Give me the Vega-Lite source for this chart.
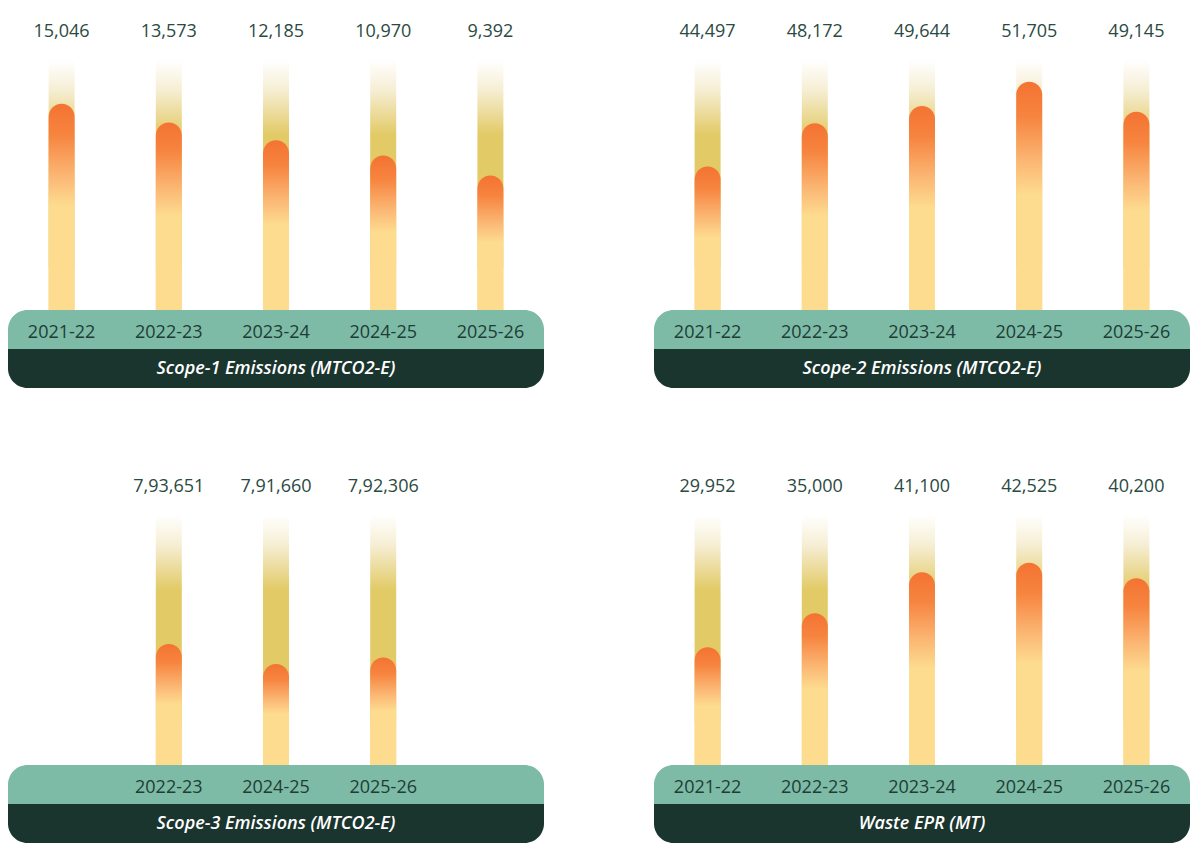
{
  "$schema": "https://vega.github.io/schema/vega-lite/v6.json",
  "padding": {"left": 8, "top": 4, "right": 0, "bottom": 0},
  "background": "#ffffff",
  "config": {
    "view": {"stroke": null},
    "font": "Open Sans",
    "locale": {
      "number": {"decimal": ".", "thousands": ",", "grouping": [3, 2, 2, 2], "currency": ["", ""]}
    }
  },
  "datasets": {
    "scope1": [
      {"year": "2021-22", "value": 15046},
      {"year": "2022-23", "value": 13573},
      {"year": "2023-24", "value": 12185},
      {"year": "2024-25", "value": 10970},
      {"year": "2025-26", "value": 9392}
    ],
    "scope2": [
      {"year": "2021-22", "value": 44497},
      {"year": "2022-23", "value": 48172},
      {"year": "2023-24", "value": 49644},
      {"year": "2024-25", "value": 51705},
      {"year": "2025-26", "value": 49145}
    ],
    "scope3": [
      {"year": "2022-23", "value": 793651},
      {"year": "2024-25", "value": 791660},
      {"year": "2025-26", "value": 792306}
    ],
    "waste": [
      {"year": "2021-22", "value": 29952},
      {"year": "2022-23", "value": 35000},
      {"year": "2023-24", "value": 41100},
      {"year": "2024-25", "value": 42525},
      {"year": "2025-26", "value": 40200}
    ]
  },
  "spacing": 71,
  "resolve": {"scale": {"x": "independent", "y": "independent"}},
  "vconcat": [
    {
      "spacing": 110,
      "resolve": {"scale": {"x": "independent", "y": "independent"}},
      "hconcat": [
        {
          "spacing": 0,
          "resolve": {"scale": {"x": "independent", "y": "independent"}},
          "vconcat": [
            {
              "width": 536, "height": 56,
              "data": {"name": "scope1"},
              "mark": {"type": "text", "fontSize": 18, "color": "#2a4a42"},
              "encoding": {
                "x": {"field": "year", "type": "nominal", "axis": null, "scale": {"domain": ["2021-22", "2022-23", "2023-24", "2024-25", "2025-26"], "type": "band", "paddingInner": 0, "paddingOuter": 0}},
                "text": {"field": "value", "type": "quantitative", "format": ","}
              }
            },
            {
              "width": 536, "height": 250,
              "data": {"name": "scope1"},
              "encoding": {
                "x": {"field": "year", "type": "nominal", "axis": null, "scale": {"domain": ["2021-22", "2022-23", "2023-24", "2024-25", "2025-26"], "paddingInner": 0, "paddingOuter": 0}}
              },
              "layer": [
                {
                  "mark": {"type": "bar", "width": 26, "color": {"gradient": "linear", "x1": 0, "y1": 0, "x2": 0, "y2": 1, "stops": [
                    {"offset": 0, "color": "#ffffff"},
                    {"offset": 0.12, "color": "#f6eed4"},
                    {"offset": 0.3, "color": "#e2ca66"},
                    {"offset": 0.82, "color": "#e2ca66"},
                    {"offset": 0.84, "color": "#fddc90"},
                    {"offset": 1, "color": "#fddc90"}]}},
                  "encoding": {
                    "y": {"datum": 18500, "type": "quantitative", "axis": null, "scale": {"domain": [-1200, 18500], "zero": false, "nice": false}},
                    "y2": {"datum": -1200}
                  }
                },
                {
                  "mark": {"type": "bar", "width": 26, "cornerRadiusTopLeft": 13, "cornerRadiusTopRight": 13, "color": {"gradient": "linear", "x1": 0, "y1": 0, "x2": 0, "y2": 1, "stops": [
                    {"offset": 0, "color": "#f47332"},
                    {"offset": 0.15, "color": "#f6843f"},
                    {"offset": 0.35, "color": "#fbb774"},
                    {"offset": 0.5, "color": "#fddc90"},
                    {"offset": 1, "color": "#fddc90"}]}},
                  "encoding": {
                    "y": {"field": "value", "type": "quantitative", "axis": null},
                    "y2": {"datum": -1200}
                  }
                }
              ]
            },
            {
              "width": 536, "height": 78,
              "data": {"name": "scope1"},
              "encoding": {
                "x": {"field": "year", "type": "nominal", "axis": null, "scale": {"domain": ["2021-22", "2022-23", "2023-24", "2024-25", "2025-26"], "type": "band", "paddingInner": 0, "paddingOuter": 0}}
              },
              "layer": [
                {
                  "data": {"values": [{"band": "years"}]},
                  "mark": {"type": "rect", "color": "#7dbba7", "cornerRadiusTopLeft": 20, "cornerRadiusTopRight": 20},
                  "encoding": {"x": null, "y": {"field": "band", "type": "nominal", "axis": null, "scale": {"domain": ["years", "title"], "paddingInner": 0, "paddingOuter": 0}}}
                },
                {
                  "data": {"values": [{"band": "title"}]},
                  "mark": {"type": "rect", "color": "#1a342e", "cornerRadiusBottomLeft": 20, "cornerRadiusBottomRight": 20},
                  "encoding": {"x": null, "y": {"field": "band", "type": "nominal"}}
                },
                {
                  "mark": {"type": "text", "fontSize": 18, "color": "#1e3d35", "dy": 3},
                  "encoding": {"y": {"datum": "years", "type": "nominal"}, "text": {"field": "year"}}
                },
                {
                  "data": {"values": [{"band": "title", "label": "Scope-1 Emissions (MTCO2-E)"}]},
                  "mark": {"type": "text", "fontSize": 18, "fontStyle": "italic", "fontWeight": 600, "color": "#ffffff"},
                  "encoding": {"x": null, "y": {"field": "band", "type": "nominal"}, "text": {"field": "label"}}
                }
              ]
            }
          ]
        },
        {
          "spacing": 0,
          "resolve": {"scale": {"x": "independent", "y": "independent"}},
          "vconcat": [
            {
              "width": 536, "height": 56,
              "data": {"name": "scope2"},
              "mark": {"type": "text", "fontSize": 18, "color": "#2a4a42"},
              "encoding": {
                "x": {"field": "year", "type": "nominal", "axis": null, "scale": {"domain": ["2021-22", "2022-23", "2023-24", "2024-25", "2025-26"], "type": "band", "paddingInner": 0, "paddingOuter": 0}},
                "text": {"field": "value", "type": "quantitative", "format": ","}
              }
            },
            {
              "width": 536, "height": 250,
              "data": {"name": "scope2"},
              "encoding": {
                "x": {"field": "year", "type": "nominal", "axis": null, "scale": {"domain": ["2021-22", "2022-23", "2023-24", "2024-25", "2025-26"], "paddingInner": 0, "paddingOuter": 0}}
              },
              "layer": [
                {
                  "mark": {"type": "bar", "width": 26, "color": {"gradient": "linear", "x1": 0, "y1": 0, "x2": 0, "y2": 1, "stops": [
                    {"offset": 0, "color": "#ffffff"},
                    {"offset": 0.12, "color": "#f6eed4"},
                    {"offset": 0.3, "color": "#e2ca66"},
                    {"offset": 0.82, "color": "#e2ca66"},
                    {"offset": 0.84, "color": "#fddc90"},
                    {"offset": 1, "color": "#fddc90"}]}},
                  "encoding": {
                    "y": {"datum": 53550, "type": "quantitative", "axis": null, "scale": {"domain": [32300, 53550], "zero": false, "nice": false}},
                    "y2": {"datum": 32300}
                  }
                },
                {
                  "mark": {"type": "bar", "width": 26, "cornerRadiusTopLeft": 13, "cornerRadiusTopRight": 13, "color": {"gradient": "linear", "x1": 0, "y1": 0, "x2": 0, "y2": 1, "stops": [
                    {"offset": 0, "color": "#f47332"},
                    {"offset": 0.15, "color": "#f6843f"},
                    {"offset": 0.35, "color": "#fbb774"},
                    {"offset": 0.5, "color": "#fddc90"},
                    {"offset": 1, "color": "#fddc90"}]}},
                  "encoding": {
                    "y": {"field": "value", "type": "quantitative", "axis": null},
                    "y2": {"datum": 32300}
                  }
                }
              ]
            },
            {
              "width": 536, "height": 78,
              "data": {"name": "scope2"},
              "encoding": {
                "x": {"field": "year", "type": "nominal", "axis": null, "scale": {"domain": ["2021-22", "2022-23", "2023-24", "2024-25", "2025-26"], "type": "band", "paddingInner": 0, "paddingOuter": 0}}
              },
              "layer": [
                {
                  "data": {"values": [{"band": "years"}]},
                  "mark": {"type": "rect", "color": "#7dbba7", "cornerRadiusTopLeft": 20, "cornerRadiusTopRight": 20},
                  "encoding": {"x": null, "y": {"field": "band", "type": "nominal", "axis": null, "scale": {"domain": ["years", "title"], "paddingInner": 0, "paddingOuter": 0}}}
                },
                {
                  "data": {"values": [{"band": "title"}]},
                  "mark": {"type": "rect", "color": "#1a342e", "cornerRadiusBottomLeft": 20, "cornerRadiusBottomRight": 20},
                  "encoding": {"x": null, "y": {"field": "band", "type": "nominal"}}
                },
                {
                  "mark": {"type": "text", "fontSize": 18, "color": "#1e3d35", "dy": 3},
                  "encoding": {"y": {"datum": "years", "type": "nominal"}, "text": {"field": "year"}}
                },
                {
                  "data": {"values": [{"band": "title", "label": "Scope-2 Emissions (MTCO2-E)"}]},
                  "mark": {"type": "text", "fontSize": 18, "fontStyle": "italic", "fontWeight": 600, "color": "#ffffff"},
                  "encoding": {"x": null, "y": {"field": "band", "type": "nominal"}, "text": {"field": "label"}}
                }
              ]
            }
          ]
        }
      ]
    },
    {
      "spacing": 110,
      "resolve": {"scale": {"x": "independent", "y": "independent"}},
      "hconcat": [
        {
          "spacing": 0,
          "resolve": {"scale": {"x": "independent", "y": "independent"}},
          "vconcat": [
            {
              "width": 536, "height": 56,
              "data": {"name": "scope3"},
              "mark": {"type": "text", "fontSize": 18, "color": "#2a4a42"},
              "encoding": {
                "x": {"field": "year", "type": "nominal", "axis": null, "scale": {"domain": ["2022-23", "2024-25", "2025-26"], "type": "band", "paddingInner": 0, "paddingOuter": 1}},
                "text": {"field": "value", "type": "quantitative", "format": ","}
              }
            },
            {
              "width": 536, "height": 250,
              "data": {"name": "scope3"},
              "encoding": {
                "x": {"field": "year", "type": "nominal", "axis": null, "scale": {"domain": ["2022-23", "2024-25", "2025-26"], "paddingInner": 0, "paddingOuter": 1}}
              },
              "layer": [
                {
                  "mark": {"type": "bar", "width": 26, "color": {"gradient": "linear", "x1": 0, "y1": 0, "x2": 0, "y2": 1, "stops": [
                    {"offset": 0, "color": "#ffffff"},
                    {"offset": 0.12, "color": "#f6eed4"},
                    {"offset": 0.3, "color": "#e2ca66"},
                    {"offset": 0.82, "color": "#e2ca66"},
                    {"offset": 0.84, "color": "#fddc90"},
                    {"offset": 1, "color": "#fddc90"}]}},
                  "encoding": {
                    "y": {"datum": 806500, "type": "quantitative", "axis": null, "scale": {"domain": [781600, 806500], "zero": false, "nice": false}},
                    "y2": {"datum": 781600}
                  }
                },
                {
                  "mark": {"type": "bar", "width": 26, "cornerRadiusTopLeft": 13, "cornerRadiusTopRight": 13, "color": {"gradient": "linear", "x1": 0, "y1": 0, "x2": 0, "y2": 1, "stops": [
                    {"offset": 0, "color": "#f47332"},
                    {"offset": 0.15, "color": "#f6843f"},
                    {"offset": 0.35, "color": "#fbb774"},
                    {"offset": 0.5, "color": "#fddc90"},
                    {"offset": 1, "color": "#fddc90"}]}},
                  "encoding": {
                    "y": {"field": "value", "type": "quantitative", "axis": null},
                    "y2": {"datum": 781600}
                  }
                }
              ]
            },
            {
              "width": 536, "height": 78,
              "data": {"name": "scope3"},
              "encoding": {
                "x": {"field": "year", "type": "nominal", "axis": null, "scale": {"domain": ["2022-23", "2024-25", "2025-26"], "type": "band", "paddingInner": 0, "paddingOuter": 1}}
              },
              "layer": [
                {
                  "data": {"values": [{"band": "years"}]},
                  "mark": {"type": "rect", "color": "#7dbba7", "cornerRadiusTopLeft": 20, "cornerRadiusTopRight": 20},
                  "encoding": {"x": null, "y": {"field": "band", "type": "nominal", "axis": null, "scale": {"domain": ["years", "title"], "paddingInner": 0, "paddingOuter": 0}}}
                },
                {
                  "data": {"values": [{"band": "title"}]},
                  "mark": {"type": "rect", "color": "#1a342e", "cornerRadiusBottomLeft": 20, "cornerRadiusBottomRight": 20},
                  "encoding": {"x": null, "y": {"field": "band", "type": "nominal"}}
                },
                {
                  "mark": {"type": "text", "fontSize": 18, "color": "#1e3d35", "dy": 3},
                  "encoding": {"y": {"datum": "years", "type": "nominal"}, "text": {"field": "year"}}
                },
                {
                  "data": {"values": [{"band": "title", "label": "Scope-3 Emissions (MTCO2-E)"}]},
                  "mark": {"type": "text", "fontSize": 18, "fontStyle": "italic", "fontWeight": 600, "color": "#ffffff"},
                  "encoding": {"x": null, "y": {"field": "band", "type": "nominal"}, "text": {"field": "label"}}
                }
              ]
            }
          ]
        },
        {
          "spacing": 0,
          "resolve": {"scale": {"x": "independent", "y": "independent"}},
          "vconcat": [
            {
              "width": 536, "height": 56,
              "data": {"name": "waste"},
              "mark": {"type": "text", "fontSize": 18, "color": "#2a4a42"},
              "encoding": {
                "x": {"field": "year", "type": "nominal", "axis": null, "scale": {"domain": ["2021-22", "2022-23", "2023-24", "2024-25", "2025-26"], "type": "band", "paddingInner": 0, "paddingOuter": 0}},
                "text": {"field": "value", "type": "quantitative", "format": ","}
              }
            },
            {
              "width": 536, "height": 250,
              "data": {"name": "waste"},
              "encoding": {
                "x": {"field": "year", "type": "nominal", "axis": null, "scale": {"domain": ["2021-22", "2022-23", "2023-24", "2024-25", "2025-26"], "paddingInner": 0, "paddingOuter": 0}}
              },
              "layer": [
                {
                  "mark": {"type": "bar", "width": 26, "color": {"gradient": "linear", "x1": 0, "y1": 0, "x2": 0, "y2": 1, "stops": [
                    {"offset": 0, "color": "#ffffff"},
                    {"offset": 0.12, "color": "#f6eed4"},
                    {"offset": 0.3, "color": "#e2ca66"},
                    {"offset": 0.82, "color": "#e2ca66"},
                    {"offset": 0.84, "color": "#fddc90"},
                    {"offset": 1, "color": "#fddc90"}]}},
                  "encoding": {
                    "y": {"datum": 49620, "type": "quantitative", "axis": null, "scale": {"domain": [12450, 49620], "zero": false, "nice": false}},
                    "y2": {"datum": 12450}
                  }
                },
                {
                  "mark": {"type": "bar", "width": 26, "cornerRadiusTopLeft": 13, "cornerRadiusTopRight": 13, "color": {"gradient": "linear", "x1": 0, "y1": 0, "x2": 0, "y2": 1, "stops": [
                    {"offset": 0, "color": "#f47332"},
                    {"offset": 0.15, "color": "#f6843f"},
                    {"offset": 0.35, "color": "#fbb774"},
                    {"offset": 0.5, "color": "#fddc90"},
                    {"offset": 1, "color": "#fddc90"}]}},
                  "encoding": {
                    "y": {"field": "value", "type": "quantitative", "axis": null},
                    "y2": {"datum": 12450}
                  }
                }
              ]
            },
            {
              "width": 536, "height": 78,
              "data": {"name": "waste"},
              "encoding": {
                "x": {"field": "year", "type": "nominal", "axis": null, "scale": {"domain": ["2021-22", "2022-23", "2023-24", "2024-25", "2025-26"], "type": "band", "paddingInner": 0, "paddingOuter": 0}}
              },
              "layer": [
                {
                  "data": {"values": [{"band": "years"}]},
                  "mark": {"type": "rect", "color": "#7dbba7", "cornerRadiusTopLeft": 20, "cornerRadiusTopRight": 20},
                  "encoding": {"x": null, "y": {"field": "band", "type": "nominal", "axis": null, "scale": {"domain": ["years", "title"], "paddingInner": 0, "paddingOuter": 0}}}
                },
                {
                  "data": {"values": [{"band": "title"}]},
                  "mark": {"type": "rect", "color": "#1a342e", "cornerRadiusBottomLeft": 20, "cornerRadiusBottomRight": 20},
                  "encoding": {"x": null, "y": {"field": "band", "type": "nominal"}}
                },
                {
                  "mark": {"type": "text", "fontSize": 18, "color": "#1e3d35", "dy": 3},
                  "encoding": {"y": {"datum": "years", "type": "nominal"}, "text": {"field": "year"}}
                },
                {
                  "data": {"values": [{"band": "title", "label": "Waste EPR (MT)"}]},
                  "mark": {"type": "text", "fontSize": 18, "fontStyle": "italic", "fontWeight": 600, "color": "#ffffff"},
                  "encoding": {"x": null, "y": {"field": "band", "type": "nominal"}, "text": {"field": "label"}}
                }
              ]
            }
          ]
        }
      ]
    }
  ]
}
